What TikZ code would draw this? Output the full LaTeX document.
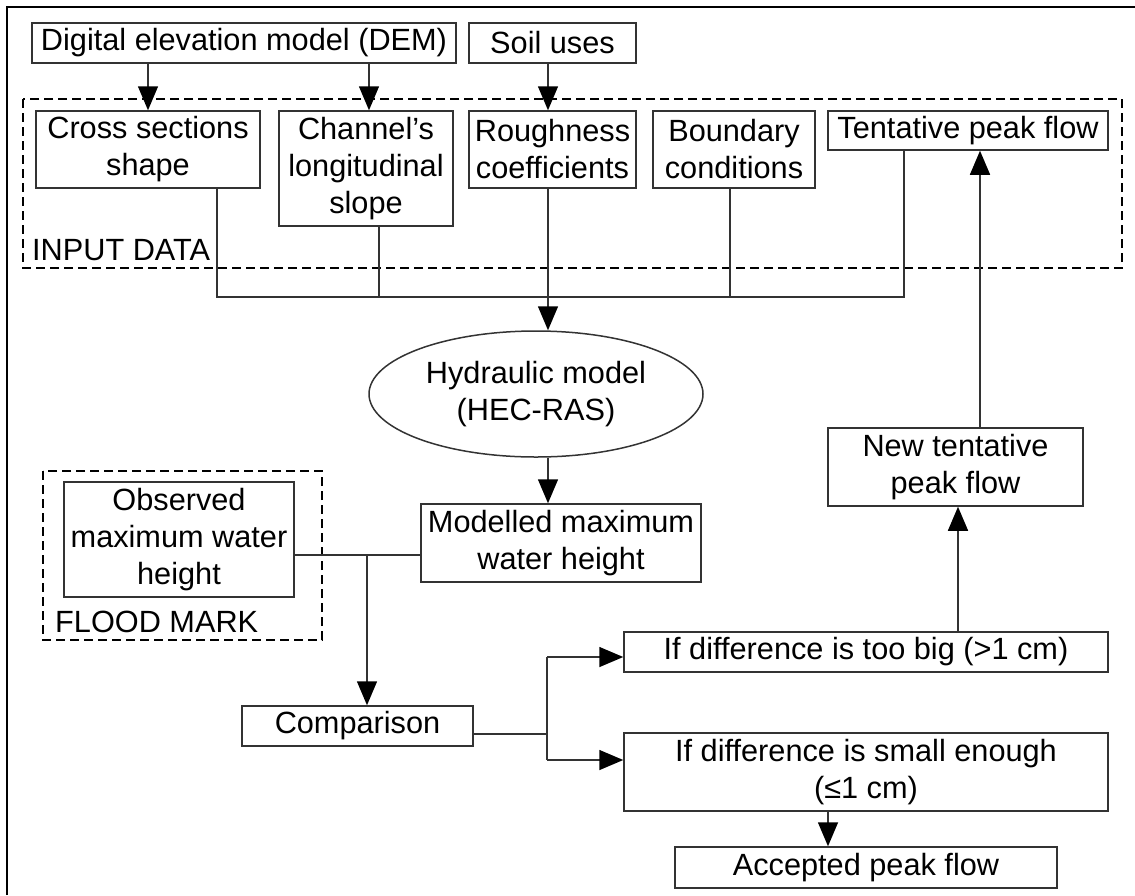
\documentclass[tikz,border=0pt]{standalone}
\usepackage{fontspec}
\setmainfont{Liberation Sans}
\usetikzlibrary{arrows.meta,shapes.geometric}
\begin{document}
\begin{tikzpicture}[x=1pt,y=-1pt,
  every node/.style={font=\fontsize{30.7}{37}\selectfont},
  box/.style={draw=black!80,line width=1.5pt,inner sep=0pt,align=center,rectangle},
  grp/.style={draw=black,line width=2.8pt,dash pattern=on 9pt off 5pt},
  conn/.style={draw=black!80,line width=1.5pt},
  arr/.style={conn,-{Triangle[length=24pt,width=20pt,fill=black,color=black]}},
  lbl/.style={anchor=base west,inner sep=0pt}]
\useasboundingbox (0,0) rectangle (1135,895);
% outer frame (top and left sides visible)
\draw[line width=2.8pt] (7,895) -- (7,7) -- (1135,7);
% group boxes
\draw[grp] (23,99) rectangle (1122,268);
\draw[grp] (43,471) rectangle (322,640);
\node[lbl] (inlbl) at (32,260) {INPUT DATA};
\node[lbl] (fllbl) at (55,632) {FLOOD MARK};
% boxes
\node[box,minimum width=424,minimum height=40] (dem) at (244,43) {Digital elevation model (DEM)};
\node[box,minimum width=167,minimum height=40] (soil) at (552.5,43) {Soil uses};
\node[box,minimum width=224,minimum height=77] (cross) at (148,149.5) {Cross sections\\shape};
\node[box,minimum width=174,minimum height=115] (chan) at (366,168.5) {Channel’s\\longitudinal\\slope};
\node[box,minimum width=167,minimum height=77] (rough) at (552.5,149.5) {Roughness\\coefficients};
\node[box,minimum width=162,minimum height=77] (bound) at (734,149.5) {Boundary\\conditions};
\node[box,minimum width=280,minimum height=39] (tent) at (968,130.5) {Tentative peak flow};
\node[draw=black!80,line width=1.5pt,ellipse,inner sep=0pt,minimum width=334,minimum height=126,align=center] (hyd) at (536,394) {Hydraulic model\\(HEC-RAS)};
\node[box,minimum width=280,minimum height=78] (mod) at (561,543) {Modelled maximum\\water height};
\node[box,minimum width=230,minimum height=115] (obs) at (179,539.5) {Observed\\maximum water\\height};
\node[box,minimum width=231,minimum height=40] (cmp) at (357.5,726) {Comparison};
\node[box,minimum width=484,minimum height=40] (big) at (866,652) {If difference is too big (>1 cm)};
\node[box,minimum width=484,minimum height=78] (small) at (866,772) {If difference is small enough\\(≤1 cm)};
\node[box,minimum width=382,minimum height=41] (acc) at (866,867.5) {Accepted peak flow};
\node[box,minimum width=255,minimum height=78] (newt) at (955.5,467) {New tentative\\peak flow};
% top arrows
\coordinate (xa) at (148,0);
\coordinate (xb) at (369,0);
\coordinate (xc) at (548,0);
\draw[arr] (xa |- dem.south) -- (xa |- cross.north);
\draw[arr] (xb |- dem.south) -- (xb |- chan.north);
\draw[arr] (xc |- soil.south) -- (xc |- rough.north);
% collector line
\coordinate (m1) at (217,297);
\coordinate (m2) at (379,297);
\coordinate (m3) at (548,297);
\coordinate (m4) at (730,297);
\coordinate (m5) at (904,297);
\draw[conn] (m1 |- cross.south) -- (m1) -- (m5) -- (m5 |- tent.south);
\draw[conn] (m2 |- chan.south) -- (m2);
\draw[conn] (m4 |- bound.south) -- (m4);
\draw[arr] (m3 |- rough.south) -- (m3 |- hyd.north);
\draw[arr] (m3 |- hyd.south) -- (m3 |- mod.north);
% observed / modelled to comparison
\coordinate (k) at (367,555);
\draw[conn] (k -| obs.east) -- (k -| mod.west);
\draw[arr] (k) -- (k |- cmp.north);
% comparison split
\coordinate (s) at (547,734);
\coordinate (s1) at (547,657);
\coordinate (s2) at (547,760);
\draw[conn] (s -| cmp.east) -- (s);
\draw[conn] (s1) -- (s2);
\draw[arr] (s1) -- (s1 -| big.west);
\draw[arr] (s2) -- (s2 -| small.west);
% right side
\coordinate (t1) at (828,0);
\coordinate (t2) at (958,0);
\coordinate (t3) at (980,0);
\draw[arr] (t1 |- small.south) -- (t1 |- acc.north);
\draw[arr] (t2 |- big.north) -- (t2 |- newt.south);
\draw[arr] (t3 |- newt.north) -- (t3 |- tent.south);
\end{tikzpicture}
\end{document}
